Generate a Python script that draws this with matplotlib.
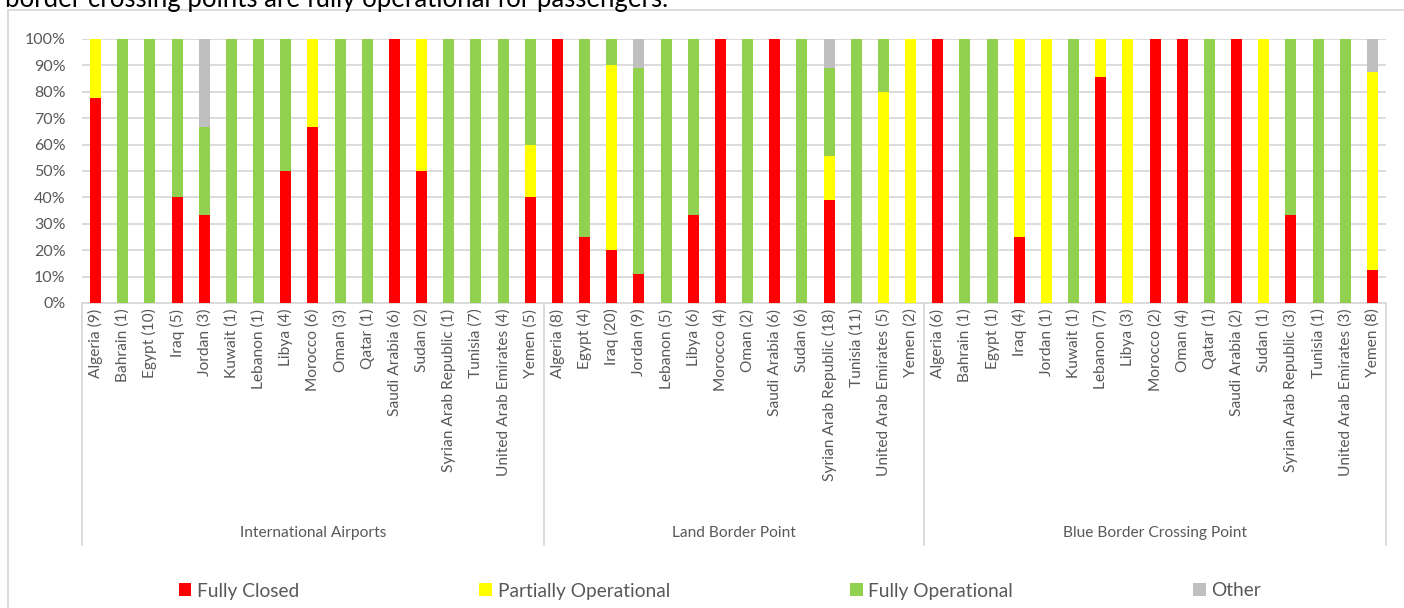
import matplotlib
matplotlib.use("Agg")
import matplotlib.pyplot as plt
from matplotlib.lines import Line2D
from matplotlib.patches import Patch
import matplotlib.transforms as mtransforms

plt.rcParams['font.family'] = ['Lato', 'DejaVu Sans']

# ---- data (share of crossing points, %) ----
group_names = ['International Airports', 'Land Border Point', 'Blue Border Crossing Point']

airport_labels = ['Algeria (9)', 'Bahrain (1)', 'Egypt (10)', 'Iraq (5)', 'Jordan (3)', 'Kuwait (1)',
                  'Lebanon (1)', 'Libya (4)', 'Morocco (6)', 'Oman (3)', 'Qatar (1)', 'Saudi Arabia (6)',
                  'Sudan (2)', 'Syrian Arab Republic (1)', 'Tunisia (7)', 'United Arab Emirates (4)', 'Yemen (5)']
airport_closed = [77.8, 0, 0, 40, 33.3, 0, 0, 50, 66.7, 0, 0, 100, 50, 0, 0, 0, 40]
airport_partial = [22.2, 0, 0, 0, 0, 0, 0, 0, 33.3, 0, 0, 0, 50, 0, 0, 0, 20]
airport_open = [0, 100, 100, 60, 33.3, 100, 100, 50, 0, 100, 100, 0, 0, 100, 100, 100, 40]
airport_other = [0, 0, 0, 0, 33.4, 0, 0, 0, 0, 0, 0, 0, 0, 0, 0, 0, 0]

land_labels = ['Algeria (8)', 'Egypt (4)', 'Iraq (20)', 'Jordan (9)', 'Lebanon (5)', 'Libya (6)',
               'Morocco (4)', 'Oman (2)', 'Saudi Arabia (6)', 'Sudan (6)', 'Syrian Arab Republic (18)',
               'Tunisia (11)', 'United Arab Emirates (5)', 'Yemen (2)']
land_closed = [100, 25, 20, 11.1, 0, 33.3, 100, 0, 100, 0, 38.9, 0, 0, 0]
land_partial = [0, 0, 70, 0, 0, 0, 0, 0, 0, 0, 16.7, 0, 80, 100]
land_open = [0, 75, 10, 77.8, 100, 66.7, 0, 100, 0, 100, 33.3, 100, 20, 0]
land_other = [0, 0, 0, 11.1, 0, 0, 0, 0, 0, 0, 11.1, 0, 0, 0]

blue_labels = ['Algeria (6)', 'Bahrain (1)', 'Egypt (1)', 'Iraq (4)', 'Jordan (1)', 'Kuwait (1)',
               'Lebanon (7)', 'Libya (3)', 'Morocco (2)', 'Oman (4)', 'Qatar (1)', 'Saudi Arabia (2)',
               'Sudan (1)', 'Syrian Arab Republic (3)', 'Tunisia (1)', 'United Arab Emirates (3)', 'Yemen (8)']
blue_closed = [100, 0, 0, 25, 0, 0, 85.7, 0, 100, 100, 0, 100, 0, 33.3, 0, 0, 12.5]
blue_partial = [0, 0, 0, 75, 100, 0, 14.3, 100, 0, 0, 0, 0, 100, 0, 0, 0, 75]
blue_open = [0, 100, 100, 0, 0, 100, 0, 0, 0, 0, 100, 0, 0, 66.7, 100, 100, 0]
blue_other = [0, 0, 0, 0, 0, 0, 0, 0, 0, 0, 0, 0, 0, 0, 0, 0, 12.5]

series_names = ['Fully Closed', 'Partially Operational', 'Fully Operational', 'Other']
series_colors = ['#FF0000', '#FFFF00', '#92D050', '#BFBFBF']

labels = airport_labels + land_labels + blue_labels
series = [airport_closed + land_closed + blue_closed,
          airport_partial + land_partial + blue_partial,
          airport_open + land_open + blue_open,
          airport_other + land_other + blue_other]
group_sizes = [len(airport_labels), len(land_labels), len(blue_labels)]

# ---- figure ----
W, H = 1404, 608
fig = plt.figure(figsize=(W / 100, H / 100), dpi=100)
ax = fig.add_axes([82 / W, 1 - 303 / H, (1386 - 82) / W, (303 - 39) / H])

txt_col = '#595959'
grid_col = '#D9D9D9'

x = list(range(len(labels)))
bottom = [0] * len(labels)
for vals, col in zip(series, series_colors):
    ax.bar(x, vals, bottom=bottom, width=0.4, color=col, zorder=3)
    bottom = [b + v for b, v in zip(bottom, vals)]

ax.set_xlim(-0.5, len(labels) - 0.5)
ax.set_ylim(0, 100)
ax.set_yticks(range(0, 101, 10))
ax.set_yticklabels([f'{v}%' for v in range(0, 101, 10)], fontsize=11.5, color=txt_col)
ax.yaxis.grid(True, color=grid_col, lw=1.3, zorder=0)
ax.tick_params(axis='y', length=0, pad=12)

ax.set_xticks(x)
ax.set_xticklabels(labels, rotation=90, fontsize=11.2, color=txt_col, ha='center', va='top')
ax.tick_params(axis='x', length=0, pad=4)

for s in ['top', 'right', 'left']:
    ax.spines[s].set_visible(False)
ax.spines['bottom'].set_color(grid_col)
ax.spines['bottom'].set_linewidth(1.3)

# group separators and group names
trans = mtransforms.blended_transform_factory(ax.transData, ax.transAxes)
sep_bottom = -(545 - 303) / (303 - 39)
edge = -0.5
for name, n in zip(group_names, group_sizes):
    ax.add_line(Line2D([edge, edge], [0, sep_bottom], transform=trans, color=grid_col,
                       lw=1.3, clip_on=False))
    ax.text(edge + n / 2, -(533 - 303) / (303 - 39), name, transform=trans, ha='center',
            va='center', fontsize=11.2, color=txt_col)
    edge += n
ax.add_line(Line2D([edge, edge], [0, sep_bottom], transform=trans, color=grid_col,
                   lw=1.3, clip_on=False))

# chart frame (partly outside the image)
fig.add_artist(Line2D([8 / W, 8 / W], [0, 1 - 10 / H], color=grid_col, lw=1.3))
fig.add_artist(Line2D([8 / W, 1], [1 - 10 / H, 1 - 10 / H], color=grid_col, lw=1.3))

# caption running off the top edge, as in the source
fig.text(668 / W, 1 - 7 / H, 'border crossing points are fully operational for passengers.',
         ha='right', va='baseline', fontsize=18.5, color='black')

handles = [Patch(facecolor=c, edgecolor='none') for c in series_colors]
fig.legend(handles, series_names, loc='center', bbox_to_anchor=(720 / W, 1 - 591 / H),
           ncol=4, frameon=False, fontsize=13.8, labelcolor=txt_col, handlelength=0.65,
           handleheight=0.65, handletextpad=0.3, columnspacing=9.4)

fig.savefig('out.png', dpi=100)
